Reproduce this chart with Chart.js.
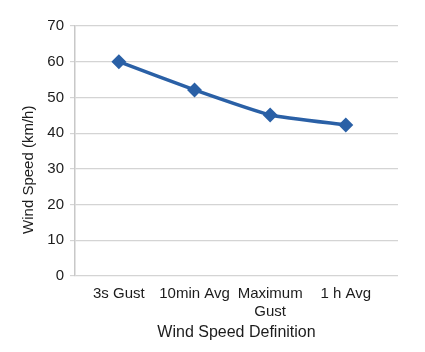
<!DOCTYPE html>
<html>
<head>
<meta charset="utf-8">
<script src="https://cdn.jsdelivr.net/npm/chart.js@4/dist/chart.umd.min.js"></script>
<style>
  html, body { margin: 0; padding: 0; background: #ffffff; }
  #wrap { width: 425px; height: 352px; }
</style>
</head>
<body>
<div id="wrap"><canvas id="windChart" width="425" height="352"></canvas></div>
<script>
// Wind speed by averaging definition
const categories = [['3s Gust'], ['10min Avg'], ['Maximum', 'Gust'], ['1 h Avg']];
const windSpeed = [60, 52.1, 45.1, 42.3];
const yTicks = [0, 10, 20, 30, 40, 50, 60, 70];

const FONT = "'Liberation Sans', Arial, sans-serif";
const TXT = '#1c1c1c';
const LINE = '#2a60a6';

new Chart(document.getElementById('windChart'), {
  type: 'line',
  data: {
    datasets: [{
      label: 'Wind Speed',
      data: windSpeed.map((v, i) => ({ x: i, y: v })),
      borderColor: LINE,
      backgroundColor: LINE,
      borderWidth: 3.5,
      pointStyle: 'rectRot',
      pointRadius: 5,
      pointBackgroundColor: LINE,
      pointBorderColor: LINE,
      tension: 0.15
    }]
  },
  options: {
    responsive: false,
    animation: false,
    layout: { padding: { top: 26, right: 27, left: 0, bottom: 0 } },
    plugins: { legend: { display: false }, tooltip: { enabled: false } },
    scales: {
      x: {
        type: 'linear',
        min: -0.58,
        max: 3.69,
        afterBuildTicks: s => { s.ticks = categories.map((_, i) => ({ value: i })); },
        afterFit: s => { s.height = 76; },
        grid: { display: false, drawTicks: false },
        border: { display: false },
        ticks: {
          color: TXT,
          font: { family: FONT, size: 15 },
          padding: 9,
          maxRotation: 0,
          autoSkip: false,
          callback: v => categories[v]
        },
        title: {
          display: true,
          text: 'Wind Speed Definition',
          color: TXT,
          font: { family: FONT, size: 16 },
          padding: { top: 6, bottom: 10 }
        }
      },
      y: {
        min: 0,
        max: 70,
        afterBuildTicks: s => { s.ticks = yTicks.map(v => ({ value: v })); },
        afterFit: s => { s.width = 75; },
        grid: { color: '#d4d4d4', lineWidth: 1.2, tickLength: 5 },
        border: { color: '#c8c8c8', width: 1.5 },
        ticks: {
          color: TXT,
          font: { family: FONT, size: 15 },
          padding: 6
        },
        title: {
          display: true,
          // trailing spaces nudge the label down, as in the original
          text: 'Wind Speed (km/h)         ',
          color: TXT,
          font: { family: FONT, size: 15 },
          padding: { top: 20, bottom: 4 }
        }
      }
    }
  }
});
</script>
</body>
</html>
